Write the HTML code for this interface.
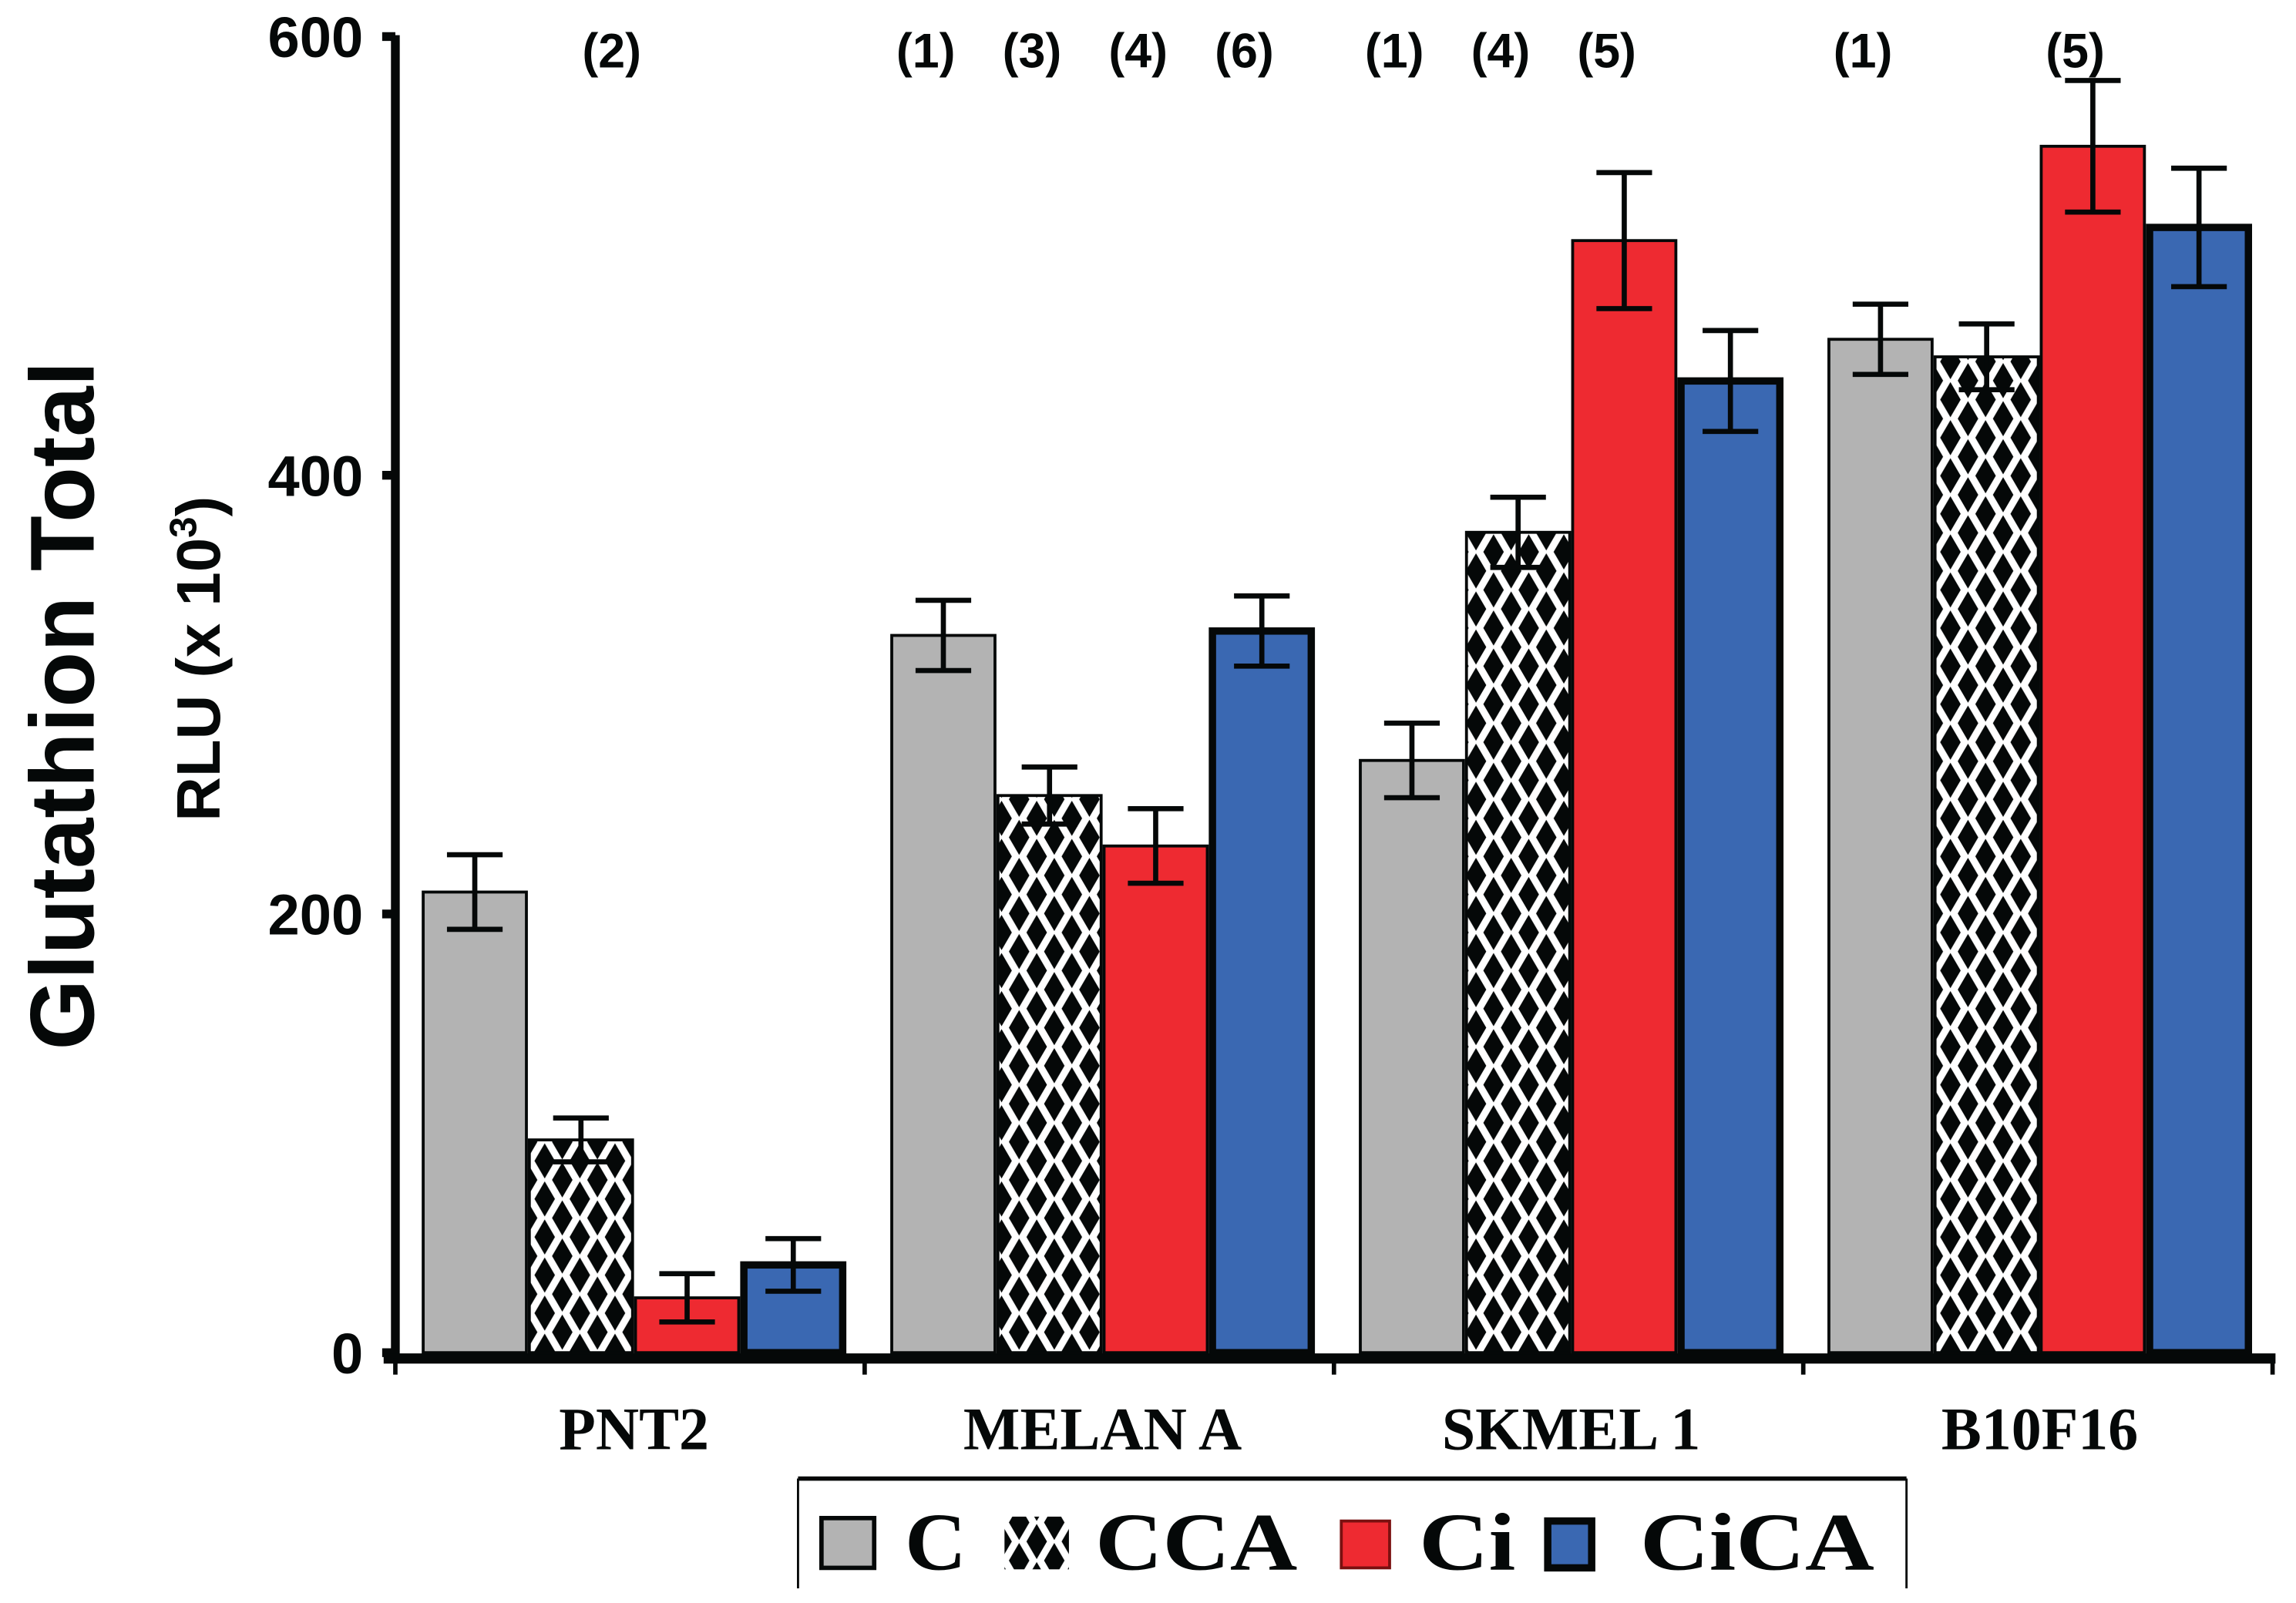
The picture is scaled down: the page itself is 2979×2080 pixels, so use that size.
<!DOCTYPE html>
<html><head><meta charset="utf-8"><style>
html,body{margin:0;padding:0;background:#fff;}
svg{display:block;}
text{font-family:"Liberation Sans",sans-serif;font-weight:bold;fill:#050808;}
.serif{font-family:"Liberation Serif",serif;}
</style></head><body>
<svg id="chart" width="2979" height="2080" viewBox="0 0 1568 1095" preserveAspectRatio="none" xmlns="http://www.w3.org/2000/svg">
<defs>
<pattern id="diam" width="24" height="26" patternUnits="userSpaceOnUse">
<rect width="24" height="26" fill="#fff"/>
<polygon points="12,1 19,13 12,25 5,13" fill="#050808"/>
<polygon points="0,-12 7,0 0,12 -7,0" fill="#050808"/>
<polygon points="24,-12 31,0 24,12 17,0" fill="#050808"/>
<polygon points="0,14 7,26 0,38 -7,26" fill="#050808"/>
<polygon points="24,14 31,26 24,38 17,26" fill="#050808"/>
</pattern>
</defs>
<g id="axes"></g>
<g id="bars"></g>
<g id="labels"></g>
<g id="legend">
<line x1="545" y1="1010" x2="1302" y2="1010" stroke="#050808" stroke-width="3"/>
<line x1="545" y1="1010" x2="545" y2="1085" stroke="#050808" stroke-width="1.5"/>
<line x1="1302" y1="1010" x2="1302" y2="1085" stroke="#050808" stroke-width="1.5"/>
<g><rect x="561" y="1037" width="36" height="34" fill="#b3b3b3" stroke="#050808" stroke-width="3"/><text class="serif" x="618" y="1072" font-size="56" textLength="42" lengthAdjust="spacingAndGlyphs">C</text></g>
<g><rect x="686" y="1036" width="44" height="36" fill="url(#diam)"/><text class="serif" x="748" y="1072" font-size="56" textLength="138" lengthAdjust="spacingAndGlyphs">CCA</text></g>
<g><rect x="916" y="1039" width="33" height="32" fill="#ee2a31" stroke="#7a1010" stroke-width="2"/><text class="serif" x="969" y="1072" font-size="56" textLength="66" lengthAdjust="spacingAndGlyphs">Ci</text></g>
<g><rect x="1057" y="1039" width="30" height="32" fill="#3a68b2" stroke="#050808" stroke-width="5"/><text class="serif" x="1120" y="1072" font-size="56" textLength="160" lengthAdjust="spacingAndGlyphs">CiCA</text></g>
</g>
</svg>
<script>
const categories = ["PNT2","MELAN A","SKMEL 1","B10F16"];
const seriesNames = ["C","CCA","Ci","CiCA"];
const valC    = [210, 327, 270, 462];
const valCCA  = [97, 254, 374, 454];
const valCi   = [25, 231, 507, 550];
const valCiCA = [40, 329, 443, 513];
const errC    = [17, 16, 17, 16];
const errCCA  = [10, 13, 16, 15];
const errCi   = [11, 17, 31, 30];
const errCiCA = [12, 16, 23, 27];
const yTicks = [0, 200, 400, 600];
const annotText = ["(2)","(1)","(3)","(4)","(6)","(1)","(4)","(5)","(1)","(5)"];
const annotIdx = [[0,1],[1,0],[1,1],[1,2],[1,3],[2,0],[2,1],[2,2],[3,0],[3,2]];

const NS="http://www.w3.org/2000/svg";
const Y0=924, Y600=25;
function y(v){return Y0-(Y0-Y600)*v/600;}
const groupStart=288, groupStep=320, barW=72.5;
function bx(g,s){return groupStart+g*groupStep+s*barW;}
function mk(tag,attrs,parent){const e=document.createElementNS(NS,tag);for(const k in attrs)e.setAttribute(k,attrs[k]);parent.appendChild(e);return e;}
const axes=document.getElementById('axes'), bars=document.getElementById('bars'), labels=document.getElementById('labels');

let ya=mk('line',{x1:270,y1:y(600)-1,x2:270,y2:Y0+6,stroke:'#050808','stroke-width':6},axes);


yTicks.forEach(t=>{
  let tk=mk('line',{x1:261,y1:y(t),x2:270,y2:y(t),stroke:'#050808','stroke-width':6},axes);
  
  
  let tl=mk('text',{x:248,y:y(t)+14,'text-anchor':'end','font-size':39},axes);
  tl.textContent=t;
  
  
});
let xa=mk('line',{x1:262,y1:Y0+4,x2:1554,y2:Y0+4,stroke:'#050808','stroke-width':7},axes);


for(let i=0;i<=4;i++){
  const xx=270+i*320.5;
  let tk=mk('line',{x1:xx,y1:Y0+4,x2:xx,y2:Y0+15,stroke:'#050808','stroke-width':3},axes);
  
  
}
let t1=mk('text',{x:0,y:0,'text-anchor':'middle','font-size':62,transform:'translate(64,482) rotate(-90)'},labels);
t1.textContent='Glutathion Total';


let t2=mk('text',{x:0,y:0,'text-anchor':'middle','font-size':42,transform:'translate(150,450) rotate(-90)'},labels);
t2.innerHTML='RLU (x 10<tspan dy="-16" font-size="26">3</tspan><tspan dy="16">)</tspan>';



const allVals=[valC,valCCA,valCi,valCiCA], allErr=[errC,errCCA,errCi,errCiCA];
const fills=['#b3b3b3','url(#diam)','#ee2a31','#3a68b2'];
categories.forEach((c,g)=>{
  for(let s=0;s<4;s++){
    const v=allVals[s][g], e=allErr[s][g], x=bx(g,s);
    const sw = s===3?5:2;
    let r=mk('rect',{x:x+sw/2,y:y(v),width:barW-sw,height:Y0-y(v),fill:fills[s],stroke:'#050808','stroke-width':sw},bars);
    
    
    const cx=x+barW/2;
    let eb=mk('path',{d:`M${cx-19},${y(v+e)}H${cx+19}M${cx},${y(v+e)}V${y(v-e)}M${cx-19},${y(v-e)}H${cx+19}`,stroke:'#050808','stroke-width':3.5,fill:'none'},bars);
    
    
  }
  let cl=mk('text',{x:bx(g,0)+2*barW,y:990,'text-anchor':'middle','font-size':41,class:'serif'},labels);
  cl.textContent=c;
  
  
});
annotText.forEach((a,i)=>{
  const [g,s]=annotIdx[i];
  let t=mk('text',{x:bx(g,s)+barW/2+(g===0?21:-12),y:46,'text-anchor':'middle','font-size':33},labels);
  t.textContent=a;
  
  
});
</script>
</body></html>
